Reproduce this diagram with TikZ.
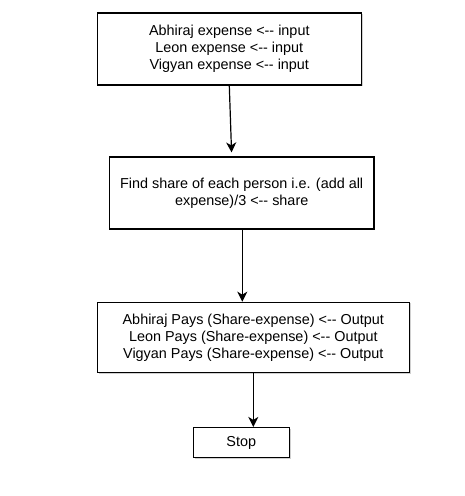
\documentclass[tikz,border=0pt]{standalone}
\usepackage{fontspec}
\setmainfont{Liberation Sans}
\usetikzlibrary{arrows.meta,shadows}
\begin{document}
\begin{tikzpicture}[x=1pt,y=1pt,
  box/.style={draw=black,line width=1.2pt,fill=white,rectangle,inner sep=0pt,align=center,
    font=\fontsize{14.4}{16.8}\selectfont,
    drop shadow={shadow xshift=1.2pt,shadow yshift=-1.2pt,fill=black!30,opacity=0.6}},
  arr/.style={line width=1.2pt,-{Stealth[length=10pt,width=10pt,inset=3pt]}}]
\useasboundingbox[fill=white] (0,0) rectangle (465,-496);
\node[box,minimum width=264.4pt,minimum height=72pt] (b1) at (229.3,-49)
  {Abhiraj expense <-{}- input\\Leon expense <-{}- input\\Vigyan expense <-{}- input};
\node[box,minimum width=264.7pt,minimum height=72pt] (b2) at (241.7,-193)
  {Find share of each person i.e. (add all\\expense)/3 <-{}- share};
\node[box,minimum width=312pt,minimum height=70.5pt] (b3) at (253.3,-337.5)
  {Abhiraj Pays (Share-expense) <-{}- Output\\Leon Pays (Share-expense) <-{}- Output\\Vigyan Pays (Share-expense) <-{}- Output};
\node[box,minimum width=96pt,minimum height=30pt] (stop) at (241.3,-442.5) {Stop};
\draw[arr,shorten >=4pt] (b1.south) -- ([xshift=-10pt]b2.north);
\draw[arr] ([xshift=0.6pt]b2.south) -- ([xshift=0.6pt]b2.south |- b3.north);
\draw[arr] (b3.south) -- (b3.south |- stop.north);
\end{tikzpicture}
\end{document}
